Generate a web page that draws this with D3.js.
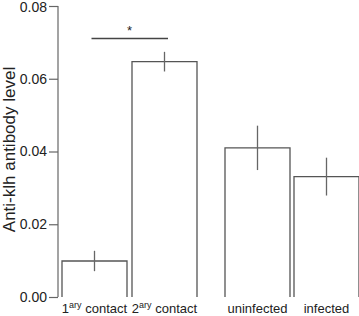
<!DOCTYPE html>
<html>
<head>
<meta charset="utf-8">
<script src="https://cdn.jsdelivr.net/npm/d3@7"></script>
<style>
  body { margin: 0; background: #fff; }
  text { font-family: "Liberation Sans", Arial, sans-serif; fill: #222; }
</style>
</head>
<body>
<div id="chart"></div>
<script>
// values
let groups = ["1ary", "2ary", "uninfected", "infected"];
let means = [0.0099, 0.0647, 0.0410, 0.0331];
let errors = [0.0028, 0.0027, 0.0061, 0.0052];
let yTicks = [0, 0.02, 0.04, 0.06, 0.08];

let width = 359, height = 316;

let svg = d3.select("#chart").append("svg")
    .attr("width", width)
    .attr("height", height);

let y = d3.scaleLinear()
    .domain([0, 0.08])
    .range([297, 6]);

// two pairs of bars with a wider gap between the pairs
let x = d3.scaleOrdinal()
    .domain(groups)
    .range([62, 132, 225, 294]);
let barW = 65;

// y axis
let yAxis = d3.axisLeft(y)
    .tickValues(yTicks)
    .tickFormat(d3.format(".2f"))
    .tickSize(9)
    .tickPadding(2);

let gy = svg.append("g")
    .attr("transform", "translate(58,0)")
    .call(yAxis);
gy.select(".domain").attr("stroke", "#666").attr("stroke-width", 1.2)
    .attr("d", "M0," + y(0.08) + "V" + y(0));
gy.selectAll(".tick line").attr("stroke", "#666").attr("stroke-width", 1.2);
gy.selectAll(".tick text")
    .style("font-size", "14px")
    .attr("fill", "#222")
    .attr("dy", d => d == 0.08 ? "0.4em" : "0.32em");

svg.append("text")
    .attr("transform", "translate(15," + (y(0.04) - 2) + ") rotate(-90)")
    .attr("text-anchor", "middle")
    .style("font-size", "17px")
    .text("Anti-klh antibody level");

// bars, open at the bottom
svg.selectAll(".bar")
    .data(groups)
    .enter().append("path")
    .attr("class", "bar")
    .attr("fill", "none")
    .attr("stroke", "#555")
    .attr("stroke-width", 1.3)
    .attr("d", (d, i) => {
        let x0 = x(d), x1 = x(d) + barW;
        return "M" + x0 + "," + y(0) + "V" + y(means[i]) + "H" + x1 + "V" + y(0);
    });

// error bars
svg.selectAll(".err")
    .data(groups)
    .enter().append("line")
    .attr("class", "err")
    .attr("stroke", "#666")
    .attr("stroke-width", 1.3)
    .attr("x1", d => x(d) + barW / 2)
    .attr("x2", d => x(d) + barW / 2)
    .attr("y1", (d, i) => y(means[i] + errors[i]))
    .attr("y2", (d, i) => y(means[i] - errors[i]));

// significance bracket
let c1 = x(groups[0]) + barW / 2, c2 = x(groups[1]) + barW / 2;
svg.append("line")
    .attr("stroke", "#444")
    .attr("stroke-width", 1.3)
    .attr("x1", c1 - 3)
    .attr("x2", c2 + 3.5)
    .attr("y1", 38.5)
    .attr("y2", 38.5);

svg.append("text")
    .attr("x", (c1 + c2) / 2)
    .attr("y", 35)
    .attr("text-anchor", "middle")
    .style("font-size", "13px")
    .text("*");

// x labels
let labels = svg.selectAll(".xlab")
    .data(groups)
    .enter().append("text")
    .attr("class", "xlab")
    .attr("x", d => x(d) + barW / 2)
    .attr("y", 313)
    .attr("text-anchor", "middle")
    .style("font-size", "13px");

labels.each(function(d, i) {
    let t = d3.select(this);
    if (i < 2) {
        t.append("tspan").text(d.charAt(0));
        t.append("tspan")
            .attr("dy", -5)
            .style("font-size", "9px")
            .text(d.slice(1));
        t.append("tspan")
            .attr("dy", 5)
            .text(" contact");
    } else {
        t.text(d);
    }
});
</script>
</body>
</html>
